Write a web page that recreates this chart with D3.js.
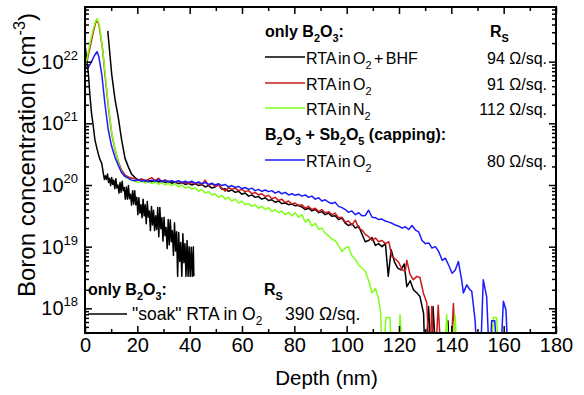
<!DOCTYPE html>
<html>
<head>
<meta charset="utf-8">
<script src="https://cdn.jsdelivr.net/npm/d3@7"></script>
<style>
  body { margin: 0; background: #fff; }
  svg { display: block; font-family: "Liberation Sans", Arial, sans-serif; }
  text { white-space: pre; }
</style>
</head>
<body>
<svg id="chart" width="584" height="395"></svg>
<script>
// tick values
const xTickLabels = [0, 20, 40, 60, 80, 100, 120, 140, 160, 180];
const xMinorTicks = [10, 30, 50, 70, 90, 110, 130, 150, 170];
const yDecades = [18, 19, 20, 21, 22];

// [depth (nm), boron concentration (cm^-3)]; 1e17 = below detection, drops off the axis
const soakO2 = [
  [0, 1.95e22], [0.6, 1.12e22], [1.3, 6.3e21], [1.9, 2.8e21], [2.5, 1.45e21], [3.2, 8.7e20],
  [3.8, 5.4e20], [4.5, 4.0e20], [5.1, 3.16e20], [5.7, 2.6e20], [6.4, 2.24e20],
  [7.0, 1.55e20], [7.4, 1.23e20], [7.8, 1.41e20], [8.2, 1.23e20], [8.6, 1.51e20], [9.0, 1.1e20],
  [9.4, 1.29e20], [9.8, 9.8e19], [10.2, 1.32e20], [10.6, 1.02e20], [11.0, 1.2e20], [11.4, 8.7e19],
  [11.8, 1.26e20], [12.2, 8.9e19], [12.6, 1.0e20], [13.0, 7.4e19], [13.4, 1.1e20], [13.8, 7.6e19],
  [14.2, 1.15e20], [14.6, 8.1e19], [15.0, 9.1e19], [15.4, 5.9e19], [15.8, 9.3e19], [16.2, 5.9e19],
  [16.6, 9.8e19], [17.0, 6.0e19], [17.4, 7.1e19], [17.8, 4.7e19], [18.2, 8.1e19], [18.6, 4.9e19],
  [19.0, 8.1e19], [19.4, 4.8e19], [19.8, 6.3e19], [20.2, 3.3e19], [20.6, 6.2e19], [21.0, 3.5e19],
  [21.4, 4.8e19], [21.8, 2.95e19], [22.2, 5.9e19], [22.6, 3.16e19], [23.0, 4.8e19], [23.4, 2.35e19],
  [23.8, 5.4e19], [24.2, 3.0e19], [24.6, 3.8e19], [25.0, 1.82e19], [25.4, 4.5e19], [25.8, 2.24e19],
  [26.2, 3.9e19], [26.6, 1.82e19], [27.0, 3.16e19], [27.4, 1.9e19], [27.8, 4.3e19], [28.2, 1.45e19],
  [28.6, 4.3e19], [29.0, 1.95e19], [29.4, 2.95e19], [29.8, 1.23e19], [30.2, 3.0e19], [30.6, 1.51e19],
  [31.0, 2.04e19], [31.4, 9.3e18], [31.8, 2.75e19], [32.2, 1.07e19], [32.6, 2.7e19], [33.0, 1.2e19],
  [33.4, 1.82e19], [33.8, 7.2e18], [34.2, 2.45e19], [34.6, 8.5e18], [35.0, 1.74e19], [35.4, 3.3e18],
  [35.8, 1.7e19], [36.2, 5.75e18], [36.6, 1.17e19], [37.0, 3.3e18], [37.4, 1.62e19], [37.8, 5.5e18],
  [38.2, 1.12e19], [38.6, 3.3e18], [39.0, 1.26e19], [39.4, 3.3e18], [39.8, 1.0e19], [40.2, 3.3e18],
  [40.6, 9.8e18], [41.0, 3.3e18], [41.4, 1.0e19], [41.6, 3.3e18]
];

const rtaO2BHF = [
  [8.7, 3.16e22], [10.2, 6.3e21], [11.5, 2.4e21], [12.7, 1.26e21], [14.0, 5.4e20], [15.3, 2.7e20],
  [16.6, 1.95e20], [17.8, 1.5e20], [19.1, 1.32e20], [20.4, 1.2e20], [21.7, 1.23e20], [23.0, 1.15e20],
  [24.2, 1.2e20], [25.5, 1.12e20], [26.8, 1.2e20], [28.1, 1.12e20], [29.3, 1.17e20], [30.6, 1.1e20],
  [31.9, 1.15e20], [33.2, 1.07e20], [34.4, 1.12e20], [35.7, 1.05e20], [37.0, 1.1e20], [38.3, 1.02e20],
  [39.5, 1.07e20], [40.8, 1.0e20], [42.1, 1.05e20], [43.4, 9.8e19], [44.6, 1.02e20], [45.9, 9.3e19],
  [47.2, 9.8e19], [48.5, 8.9e19], [49.7, 9.3e19], [51.0, 1.02e20], [52.3, 8.5e19], [53.6, 8.7e19],
  [54.8, 7.9e19], [56.1, 8.3e19], [57.4, 7.6e19], [58.7, 7.9e19], [59.9, 7.1e19], [61.2, 7.4e19],
  [62.5, 6.6e19], [63.8, 6.9e19], [65.0, 6.3e19], [66.3, 6.5e19], [67.6, 5.9e19], [68.9, 6.2e19],
  [70.1, 5.6e19], [71.4, 5.75e19], [72.7, 5.25e19], [74.0, 5.5e19], [75.2, 5.0e19], [76.5, 5.1e19],
  [77.8, 4.8e19], [79.1, 4.9e19], [80.3, 4.6e19], [81.6, 4.7e19], [82.9, 4.4e19], [84.2, 4.0e19],
  [85.4, 4.2e19], [86.7, 3.8e19], [88.0, 4.0e19], [89.3, 3.55e19], [90.5, 3.7e19], [91.8, 3.3e19],
  [93.1, 3.5e19], [94.4, 3.1e19], [95.6, 3.16e19], [96.9, 2.75e19], [98.2, 2.9e19], [99.5, 2.4e19],
  [100.7, 2.2e19], [102.0, 2.35e19], [103.3, 2.0e19], [104.6, 2.15e19], [105.9, 1.58e19], [107.1, 1.2e19],
  [108.4, 1.26e19], [109.7, 1.41e19], [111.0, 1.05e19], [112.2, 1.12e19], [113.5, 1.0e19], [114.8, 1.12e19],
  [115.9, 3.3e18], [117.0, 8.9e18], [118.3, 5.6e18], [119.5, 4.5e18], [120.8, 4.2e18], [122.0, 5.25e18],
  [123.0, 2.24e18], [124.3, 2.8e18], [125.5, 2.0e18], [126.8, 1.78e18], [128.0, 1.55e18], [129.4, 8.3e17],
  [130.0, 1e17], [131.3, 1.07e18], [132.5, 1e17], [133.0, 1.07e18], [134.4, 1e17], [138.0, 1e17],
  [138.7, 6.3e17], [139.5, 1e17]
];

const rtaO2 = [
  [0, 7.8e21], [1, 1.12e22], [2, 1.78e22], [3, 2.8e22], [4, 4.2e22], [4.6, 4.7e22], [5.3, 4.0e22],
  [6.0, 2.6e22], [6.7, 1.6e22], [7.6, 6.3e21], [8.9, 1.86e21], [10.2, 6.8e20], [11.5, 3.7e20],
  [12.7, 2.4e20], [14.0, 1.74e20], [15.3, 1.45e20], [16.6, 1.35e20], [17.8, 1.3e20], [19.1, 1.26e20],
  [20.4, 1.2e20], [21.7, 1.26e20], [23.0, 1.17e20], [24.2, 1.23e20], [25.5, 1.32e20], [26.8, 1.17e20],
  [28.1, 1.29e20], [29.3, 1.15e20], [30.6, 1.2e20], [31.9, 1.12e20], [33.2, 1.17e20], [34.4, 1.1e20],
  [35.7, 1.15e20], [37.0, 1.07e20], [38.3, 1.12e20], [39.5, 1.05e20], [40.8, 1.1e20], [42.1, 1.02e20],
  [43.4, 1.1e20], [44.6, 1.0e20], [45.9, 1.2e20], [47.2, 9.8e19], [48.5, 1.05e20], [49.7, 9.5e19],
  [51.0, 1.0e20], [52.3, 8.9e19], [53.6, 7.9e19], [54.8, 9.1e19], [56.1, 8.5e19], [57.4, 8.9e19],
  [58.7, 8.1e19], [59.9, 8.5e19], [61.2, 7.8e19], [62.5, 8.1e19], [63.8, 7.2e19], [65.0, 7.6e19],
  [66.3, 6.9e19], [67.6, 7.2e19], [68.9, 6.5e19], [70.1, 6.8e19], [71.4, 6.0e19], [72.7, 6.3e19],
  [74.0, 5.6e19], [75.2, 5.9e19], [76.5, 5.2e19], [77.8, 5.5e19], [79.1, 4.9e19], [80.3, 5.1e19],
  [81.6, 4.6e19], [82.9, 4.8e19], [84.2, 4.2e19], [85.4, 4.5e19], [86.7, 4.0e19], [88.0, 4.2e19],
  [89.3, 3.7e19], [90.5, 4.0e19], [91.8, 3.55e19], [93.1, 3.7e19], [94.4, 3.3e19], [95.6, 3.5e19],
  [96.9, 2.95e19], [98.2, 3.0e19], [99.5, 2.5e19], [100.7, 2.6e19], [102.0, 2.24e19], [103.3, 2.7e19],
  [104.6, 2.0e19], [105.9, 1.86e19], [107.1, 1.58e19], [108.4, 1.45e19], [109.7, 1.26e19], [111.0, 1.38e19],
  [112.2, 1.2e19], [113.5, 1.26e19], [114.8, 1.12e19], [116.1, 1.2e19], [117.3, 6.9e18], [118.6, 6.3e18],
  [119.9, 5.6e18], [121.2, 4.2e18], [122.4, 4.0e18], [123.0, 6.0e18], [124.2, 3.55e18], [125.5, 2.9e18],
  [126.8, 3.3e18], [128.0, 3.16e18], [129.3, 1.78e18], [130.6, 1.23e18], [131.8, 1e17], [132.5, 1.07e18],
  [133.7, 1e17], [135.0, 1.12e18], [136.3, 1e17], [139.5, 1e17], [140.8, 1.2e18], [141.8, 1e17]
];

const rtaN2 = [
  [0, 7.8e21], [1, 1.26e22], [2, 2.1e22], [3, 3.16e22], [4, 4.5e22], [4.6, 5.0e22], [5.3, 4.2e22],
  [6.0, 2.8e22], [6.7, 1.66e22], [7.6, 7.1e21], [8.9, 2.0e21], [10.2, 7.1e20], [11.5, 3.8e20],
  [12.7, 2.3e20], [14.0, 1.58e20], [15.3, 1.35e20], [16.6, 1.26e20], [17.8, 1.2e20], [19.1, 1.15e20],
  [20.4, 1.1e20], [21.7, 1.17e20], [23.0, 1.07e20], [24.2, 1.15e20], [25.5, 1.05e20], [26.8, 1.12e20],
  [28.1, 1.02e20], [29.3, 1.1e20], [30.6, 1.0e20], [31.9, 1.07e20], [33.2, 9.8e19], [34.4, 1.05e20],
  [35.7, 9.3e19], [37.0, 1.0e20], [38.3, 8.9e19], [39.5, 9.5e19], [40.8, 8.5e19], [42.1, 9.1e19],
  [43.4, 7.9e19], [44.6, 8.5e19], [45.9, 7.4e19], [47.2, 7.8e19], [48.5, 6.9e19], [49.7, 7.2e19],
  [51.0, 6.3e19], [52.3, 6.8e19], [53.6, 5.9e19], [54.8, 6.3e19], [56.1, 5.5e19], [57.4, 5.9e19],
  [58.7, 5.1e19], [59.9, 5.5e19], [61.2, 4.8e19], [62.5, 5.0e19], [63.8, 4.5e19], [65.0, 4.8e19],
  [66.3, 4.2e19], [67.6, 4.5e19], [68.9, 4.0e19], [70.1, 4.3e19], [71.4, 3.7e19], [72.7, 4.0e19],
  [74.0, 3.55e19], [75.2, 3.8e19], [76.5, 3.3e19], [77.8, 3.6e19], [79.1, 3.16e19], [80.3, 3.55e19],
  [81.6, 3.0e19], [82.9, 3.3e19], [84.2, 2.5e19], [85.4, 2.8e19], [86.7, 2.15e19], [88.0, 2.4e19],
  [89.3, 1.9e19], [90.5, 2.0e19], [91.8, 1.66e19], [93.1, 1.5e19], [94.4, 1.32e19], [95.6, 1.26e19],
  [96.9, 1.05e19], [98.2, 8.3e18], [99.5, 9.5e18], [100.7, 1.0e19], [102.0, 7.1e18], [103.3, 6.3e18],
  [104.6, 5.0e18], [105.9, 4.5e18], [107.1, 4.0e18], [108.4, 2.8e18], [109.7, 1.78e18], [111.0, 2.1e18],
  [112.2, 1.41e18], [113.0, 8.3e17], [113.7, 1e17], [115.0, 7.1e17], [116.5, 7.1e17], [117.5, 1e17],
  [119.5, 1e17], [120.4, 7.9e17], [121.5, 1e17], [137.2, 1e17], [138.2, 7.9e17], [139.3, 1e17],
  [140.4, 1e17], [141.4, 7.9e17], [142.5, 1e17], [155.2, 1e17], [156.0, 7.1e17], [157.3, 7.1e17],
  [158.4, 1e17]
];

const cappedO2 = [
  [0, 7.8e21], [1.3, 8.1e21], [2.5, 1.0e22], [3.6, 1.26e22], [4.6, 1.45e22], [5.3, 1.2e22],
  [6.4, 6.3e21], [7.6, 2.1e21], [8.9, 7.8e20], [10.2, 4.2e20], [11.5, 2.8e20], [12.7, 2.1e20],
  [14.0, 1.58e20], [15.3, 1.38e20], [16.6, 1.29e20], [17.8, 1.2e20], [19.1, 1.17e20], [20.4, 1.23e20],
  [21.7, 1.15e20], [23.0, 1.2e20], [24.2, 1.12e20], [25.5, 1.2e20], [26.8, 1.15e20], [28.1, 1.23e20],
  [29.3, 1.12e20], [30.6, 1.2e20], [31.9, 1.12e20], [33.2, 1.17e20], [34.4, 1.12e20], [35.7, 1.17e20],
  [37.0, 1.1e20], [38.3, 1.15e20], [39.5, 1.1e20], [40.8, 1.15e20], [42.1, 1.07e20], [43.4, 1.12e20],
  [44.6, 1.05e20], [45.9, 1.1e20], [47.2, 1.02e20], [48.5, 1.07e20], [49.7, 1.0e20], [51.0, 1.05e20],
  [52.3, 9.8e19], [53.6, 1.02e20], [54.8, 9.3e19], [56.1, 9.8e19], [57.4, 9.1e19], [58.7, 9.5e19],
  [59.9, 8.7e19], [61.2, 9.1e19], [62.5, 8.5e19], [63.8, 8.9e19], [65.0, 8.1e19], [66.3, 8.5e19],
  [67.6, 7.9e19], [68.9, 8.3e19], [70.1, 7.8e19], [71.4, 8.1e19], [72.7, 7.4e19], [74.0, 7.9e19],
  [75.2, 7.2e19], [76.5, 7.6e19], [77.8, 6.9e19], [79.1, 7.2e19], [80.3, 6.8e19], [81.6, 7.1e19],
  [82.9, 6.6e19], [84.2, 6.9e19], [85.4, 6.3e19], [86.7, 6.6e19], [88.0, 5.9e19], [89.3, 6.2e19],
  [90.5, 5.5e19], [91.8, 5.75e19], [93.1, 5.25e19], [94.4, 5.0e19], [95.6, 5.25e19], [96.9, 4.5e19],
  [98.2, 4.3e19], [99.5, 4.0e19], [100.7, 3.6e19], [102.0, 3.8e19], [103.3, 3.3e19], [104.6, 3.55e19],
  [105.9, 3.16e19], [107.1, 3.2e19], [108.4, 3.9e19], [109.7, 3.0e19], [111.0, 2.95e19], [112.2, 2.75e19],
  [113.5, 2.8e19], [114.8, 2.6e19], [116.1, 2.5e19], [117.3, 2.4e19], [118.6, 2.24e19], [119.9, 2.15e19],
  [121.2, 2.0e19], [122.4, 2.1e19], [123.7, 1.9e19], [125.0, 2.2e19], [126.3, 1.86e19], [127.5, 1.74e19],
  [128.8, 1.26e19], [130.1, 1.12e19], [131.4, 1.15e19], [132.6, 9.5e18], [133.9, 1.0e19], [135.2, 8.3e18],
  [136.5, 6.0e18], [137.7, 6.5e18], [139.0, 5.0e18], [140.3, 3.7e18], [141.5, 4.2e18], [142.7, 5.75e18],
  [144.0, 2.8e18], [144.6, 1.78e18], [145.9, 2.4e18], [147.1, 2.0e18], [147.8, 1.9e18], [149.1, 6.3e17],
  [150.0, 1e17], [151.0, 1e17], [152.2, 2.9e18], [153.5, 1.55e18], [154.7, 1e17], [155.4, 6.3e17],
  [156.6, 6.3e17], [157.8, 1e17], [158.6, 1e17], [159.9, 1.3e18], [160.9, 9.3e17], [161.8, 1e17]
];

const series = [
  {data: soakO2, color: "#000000"},
  {data: rtaO2BHF, color: "#000000"},
  {data: rtaO2, color: "#cc1a1a"},
  {data: rtaN2, color: "#80ff1a"},
  {data: cappedO2, color: "#1a1aff"}
];

const legendTop = [
  {label: "RTA in O_{2} + BHF", rs: "94 Ω/sq.", color: "#000000"},
  {label: "RTA in O_{2}", rs: "91 Ω/sq.", color: "#cc1a1a"},
  {label: "RTA in N_{2}", rs: "112 Ω/sq.", color: "#80ff1a"},
  {label: "RTA in O_{2}", rs: "80 Ω/sq.", color: "#1a1aff"}
];

var svg = d3.select("#chart");
var plotL = 85, plotR = 556, plotT = 7, plotB = 333;

var x = d3.scaleLinear().domain([0, 180]).range([plotL, plotR]);
var y = d3.scaleLog().domain([3.98e17, 7.7e22]).range([plotB, plotT]);

// subscript / superscript helper: "O_{2}" , "cm^{-3}"
function richText(text, str, sub, sup) {
  sub = sub || 5; sup = sup || -8;
  var shift = 0;
  str.split(/(_\{[^}]*\}|\^\{[^}]*\})/).filter(s => s.length).forEach(part => {
    var target = 0, content = part, small = false;
    if (part.startsWith("_{")) { target = sub; content = part.slice(2, -1); small = true; }
    else if (part.startsWith("^{")) { target = sup; content = part.slice(2, -1); small = true; }
    var t = text.append("tspan").attr("dy", target - shift).text(content);
    if (small) t.style("font-size", "0.68em");
    shift = target;
  });
}

svg.append("clipPath").attr("id", "plotClip")
  .append("rect").attr("x", plotL).attr("y", plotT)
  .attr("width", plotR - plotL).attr("height", plotB - plotT);

var line = d3.line()
  .x(d => x(d[0]))
  .y(d => y(d[1]));

svg.append("g").attr("clip-path", "url(#plotClip)")
  .selectAll("path")
  .data(series)
  .enter().append("path")
  .attr("d", d => line(d.data))
  .attr("fill", "none")
  .attr("stroke", d => d.color)
  .attr("stroke-width", 1.5)
  .attr("stroke-linejoin", "round");

// axes, ticks pointing inward
function styleAxis(g) {
  g.select(".domain").remove();
  g.selectAll(".tick line").attr("stroke", "#000").attr("stroke-width", 1.5);
}

var yMinor = [];
[17, 18, 19, 20, 21, 22].forEach(k => {
  for (var m = 2; m <= 9; m++) {
    var v = m * Math.pow(10, k);
    if (v > y.domain()[0] && v < y.domain()[1]) yMinor.push(v);
  }
});
var yMajor = yDecades.map(k => Math.pow(10, k));

svg.append("g").attr("transform", `translate(0,${plotB})`)
  .call(d3.axisBottom(x).tickValues(xTickLabels).tickSize(-7).tickPadding(5))
  .call(styleAxis)
  .call(g => g.selectAll("text").attr("font-size", 20).attr("font-family", "Liberation Sans, Arial, sans-serif").attr("fill", "#000"));
svg.append("g").attr("transform", `translate(0,${plotB})`)
  .call(d3.axisBottom(x).tickValues(xMinorTicks).tickSize(-4).tickFormat(""))
  .call(styleAxis);
svg.append("g").attr("transform", `translate(0,${plotT})`)
  .call(d3.axisTop(x).tickValues(xTickLabels).tickSize(-7).tickFormat(""))
  .call(styleAxis);
svg.append("g").attr("transform", `translate(0,${plotT})`)
  .call(d3.axisTop(x).tickValues(xMinorTicks).tickSize(-4).tickFormat(""))
  .call(styleAxis);

svg.append("g").attr("transform", `translate(${plotL},0)`)
  .call(d3.axisLeft(y).tickValues(yMajor).tickSize(-7).tickFormat(""))
  .call(styleAxis);
svg.append("g").attr("transform", `translate(${plotL},0)`)
  .call(d3.axisLeft(y).tickValues(yMinor).tickSize(-4).tickFormat(""))
  .call(styleAxis);
svg.append("g").attr("transform", `translate(${plotR},0)`)
  .call(d3.axisRight(y).tickValues(yMajor).tickSize(-7).tickFormat(""))
  .call(styleAxis);
svg.append("g").attr("transform", `translate(${plotR},0)`)
  .call(d3.axisRight(y).tickValues(yMinor).tickSize(-4).tickFormat(""))
  .call(styleAxis);

// y tick labels 10^n
yDecades.forEach(k => {
  var t = svg.append("text")
    .attr("x", 78).attr("y", y(Math.pow(10, k)) + 7)
    .attr("text-anchor", "end")
    .attr("font-size", 20);
  t.append("tspan").text("10");
  t.append("tspan").attr("dy", -9).attr("font-size", 13).text(k);
});

// frame
svg.append("rect")
  .attr("x", plotL).attr("y", plotT)
  .attr("width", plotR - plotL).attr("height", plotB - plotT)
  .attr("fill", "none").attr("stroke", "#000").attr("stroke-width", 2);

// axis titles
svg.append("text")
  .attr("x", (plotL + plotR) / 2 + 6).attr("y", 385)
  .attr("text-anchor", "middle").attr("font-size", 20.5)
  .text("Depth (nm)");

var yt = svg.append("text")
  .attr("transform", "translate(35,155) rotate(-90)")
  .attr("text-anchor", "middle").attr("font-size", 24);
richText(yt, "Boron concentration (cm^{-3})", 5, -10);

// legend, upper right
var lg = svg.append("g").attr("font-size", 16);
richText(lg.append("text").attr("x", 265).attr("y", 37).attr("font-weight", "bold"), "only B_{2}O_{3}:");
richText(lg.append("text").attr("x", 490).attr("y", 37).attr("font-weight", "bold"), "R_{S}");
richText(lg.append("text").attr("x", 265).attr("y", 140).attr("font-weight", "bold"),
  "B_{2}O_{3} + Sb_{2}O_{5} (capping):");

var rowY = [64, 90, 115, 167];
legendTop.forEach((d, i) => {
  lg.append("line")
    .attr("x1", 265).attr("x2", 305)
    .attr("y1", rowY[i] - 7).attr("y2", rowY[i] - 7)
    .attr("stroke", d.color).attr("stroke-width", 1.6);
  richText(lg.append("text").attr("x", 306).attr("y", rowY[i]).attr("word-spacing", -2), d.label);
  lg.append("text").attr("x", 547).attr("y", rowY[i]).attr("text-anchor", "end").text(d.rs);
});

// legend, lower left
var lb = svg.append("g").attr("font-size", 16);
richText(lb.append("text").attr("x", 88).attr("y", 295).attr("font-weight", "bold"), "only B_{2}O_{3}:");
richText(lb.append("text").attr("x", 264).attr("y", 295).attr("font-weight", "bold"), "R_{S}");
lb.append("line")
  .attr("x1", 88).attr("x2", 127).attr("y1", 314).attr("y2", 314)
  .attr("stroke", "#000").attr("stroke-width", 1.6);
richText(lb.append("text").attr("x", 132).attr("y", 320).attr("font-size", 17.5), "\"soak\" RTA in O_{2}");
lb.append("text").attr("x", 285).attr("y", 320).attr("font-size", 17.5).text("390 Ω/sq.");
</script>
</body>
</html>
